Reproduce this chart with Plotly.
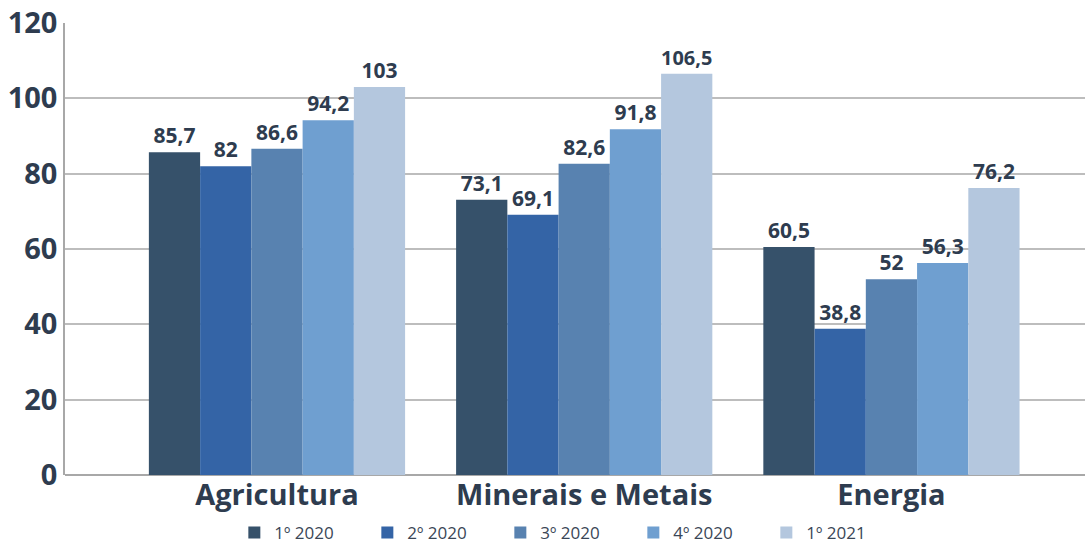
import plotly.graph_objects as go

categories = ["Agricultura", "Minerais e Metais", "Energia"]
series_names = ["1º 2020", "2º 2020", "3º 2020", "4º 2020", "1º 2021"]
values = {
    "1º 2020": [85.7, 73.1, 60.5],
    "2º 2020": [82, 69.1, 38.8],
    "3º 2020": [86.6, 82.6, 52],
    "4º 2020": [94.2, 91.8, 56.3],
    "1º 2021": [103, 106.5, 76.2],
}
colors = ["#36516A", "#3464A6", "#5882B0", "#6F9FD0", "#B4C7DE"]
y_ticks = [0, 20, 40, 60, 80, 100, 120]

text_color = "#2E3C4F"


def fmt(v):
    s = f"{v:g}"
    return s.replace(".", ",")


fig = go.Figure()
for name, color in zip(series_names, colors):
    vals = values[name]
    fig.add_trace(go.Bar(
        name=name,
        x=categories,
        y=vals,
        marker=dict(color=color, line=dict(width=0)),
        text=[fmt(v) for v in vals],
        textposition="outside",
        textfont=dict(family="Open Sans", size=21, color=text_color, weight=700),
        cliponaxis=False,
    ))

fig.update_layout(
    width=1085,
    height=546,
    margin=dict(l=65, r=0, t=23, b=71, autoexpand=False),
    paper_bgcolor="white",
    plot_bgcolor="white",
    barmode="group",
    bargap=0.166,
    bargroupgap=0,
    font=dict(family="Open Sans", color=text_color),
    showlegend=True,
    legend=dict(
        orientation="h",
        x=0.492,
        xanchor="center",
        y=-0.128,
        yanchor="middle",
        font=dict(size=17, color="#3A4656"),
        entrywidth=88,
        entrywidthmode="pixels",
        itemsizing="constant",
        borderwidth=0,
    ),
    uniformtext=dict(mode=False),
)

fig.update_xaxes(
    type="category",
    range=[-0.69, 2.63],
    showgrid=False,
    showline=False,
    ticks="",
    tickfont=dict(family="Open Sans", size=29, color=text_color, weight=700),
)

fig.update_yaxes(
    range=[0, 120],
    tickvals=y_ticks,
    showgrid=True,
    gridcolor="#BDBDBD",
    gridwidth=1.5,
    showline=True,
    linecolor="#A8A8A8",
    linewidth=1.5,
    zeroline=True,
    zerolinecolor="#A8A8A8",
    zerolinewidth=1.5,
    ticks="",
    ticklabelstandoff=0,
    tickfont=dict(family="Open Sans", size=29, color=text_color, weight=700),
)

fig.write_html("out.html")
